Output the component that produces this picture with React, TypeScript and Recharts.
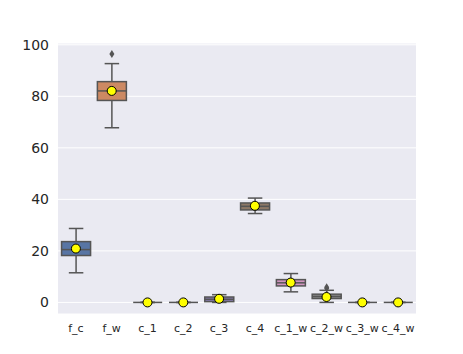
import { ComposedChart, Bar, Scatter, XAxis, YAxis, CartesianGrid } from 'recharts';

const categories = ['f_c', 'f_w', 'c_1', 'c_2', 'c_3', 'c_4', 'c_1_w', 'c_2_w', 'c_3_w', 'c_4_w'];
const whiskerLow = [11.5, 67.8, 0, 0, 0, 34.5, 4.1, 0, 0, 0];
const q1 = [18.2, 78.4, 0, 0, 0.3, 35.9, 6.4, 1.5, 0, 0];
const medians = [20.5, 82.1, 0, 0, 1.2, 37.3, 7.6, 2.3, 0, 0];
const q3 = [23.6, 85.7, 0, 0, 2.1, 38.6, 8.85, 3.2, 0, 0];
const whiskerHigh = [28.7, 92.7, 0, 0, 3.0, 40.5, 11.2, 4.7, 0, 0];
const means = [20.9, 82.1, 0, 0, 1.4, 37.5, 7.7, 2.1, 0, 0];
const outliers: number[][] = [[], [96.4], [], [], [], [], [], [5.4, 5.9], [], []];

const yTicks = [0, 20, 40, 60, 80, 100];
const Y_MIN = -4.5;
const Y_MAX = 100.7;

const boxColors = ['#5875a4', '#cc8963', '#5f9e6e', '#b55d60', '#857aab', '#8d7866', '#d095bf', '#8c8c8c', '#c1b37f', '#6bacc6'];
const EDGE = '#555555';

const data = categories.map((name, i) => ({ name, span: [Y_MIN, Y_MAX], mean: means[i] }));

function BoxShape(props: any) {
  const { x, y, width, height, index } = props;
  const top = Math.min(y, y + height);
  const h = Math.abs(height);
  // bar spans the whole y domain, so values map linearly onto it
  const py = (v: number) => top + ((Y_MAX - v) / (Y_MAX - Y_MIN)) * h;
  const cx = x + width / 2;
  const cap = width / 4;
  const yHi = py(whiskerHigh[index]);
  const yLo = py(whiskerLow[index]);
  const yQ3 = py(q3[index]);
  const yQ1 = py(q1[index]);
  const yMed = py(medians[index]);
  return (
    <g>
      <line x1={cx} x2={cx} y1={yHi} y2={yQ3} stroke={EDGE} strokeWidth={1.5} />
      <line x1={cx} x2={cx} y1={yQ1} y2={yLo} stroke={EDGE} strokeWidth={1.5} />
      <line x1={cx - cap} x2={cx + cap} y1={yHi} y2={yHi} stroke={EDGE} strokeWidth={1.5} />
      <line x1={cx - cap} x2={cx + cap} y1={yLo} y2={yLo} stroke={EDGE} strokeWidth={1.5} />
      {yQ1 - yQ3 > 0.5 && (
        <rect x={x} y={yQ3} width={width} height={yQ1 - yQ3} fill={boxColors[index]} stroke={EDGE} strokeWidth={1.5} />
      )}
      <line x1={x} x2={x + width} y1={yMed} y2={yMed} stroke={EDGE} strokeWidth={1.5} />
      {outliers[index].map((v, k) => {
        const oy = py(v);
        return (
          <path key={k} d={`M${cx},${oy - 4} L${cx + 2.5},${oy} L${cx},${oy + 4} L${cx - 2.5},${oy} Z`} fill={EDGE} />
        );
      })}
    </g>
  );
}

function MeanDot(props: any) {
  const { cx, cy } = props;
  return <circle cx={cx} cy={cy} r={4.5} fill="#ffff00" stroke="#000" strokeWidth={1} />;
}

export default function App() {
  return (
    <div style={{ position: 'absolute', left: 0, top: 0, width: 463, height: 354, background: '#fff' }}>
      <ComposedChart width={463} height={354} data={data} margin={{ top: 43, right: 47, left: 0, bottom: 0 }} barCategoryGap="10%">
        <CartesianGrid vertical={false} stroke="#ffffff" strokeWidth={1} fill="#eaeaf2" />
        <XAxis
          dataKey="name"
          axisLine={false}
          tickLine={false}
          interval={0}
          height={40}
          tickMargin={4}
          tick={{ fontSize: 11, fill: '#262626', fontFamily: 'DejaVu Sans' }}
        />
        <YAxis
          type="number"
          domain={[Y_MIN, Y_MAX]}
          ticks={yTicks}
          allowDataOverflow
          axisLine={false}
          tickLine={false}
          width={58}
          tickMargin={3}
          tick={{ fontSize: 14, fill: '#262626', fontFamily: 'DejaVu Sans' }}
        />
        <Bar dataKey="span" shape={BoxShape} isAnimationActive={false} />
        <Scatter dataKey="mean" shape={MeanDot} isAnimationActive={false} />
      </ComposedChart>
    </div>
  );
}
